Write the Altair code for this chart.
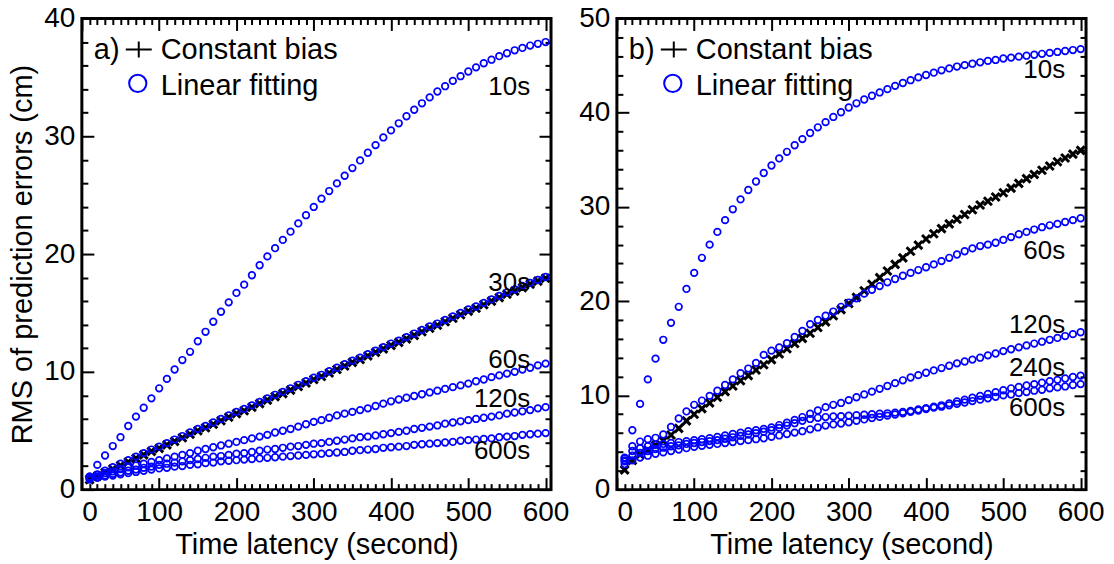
import altair as alt
import pandas as pd

FONT = "Liberation Sans"
W, H = 470, 472
XMAX = 607

# time latency (s) of every sample
latency = list(range(10, 601, 10))

# ---------------- panel a ----------------
a_bias = [0.85, 1.15, 1.45, 1.75, 2.05, 2.35, 2.65, 2.95, 3.25, 3.5,
          3.8, 4.1, 4.4, 4.7, 5.0, 5.25, 5.55, 5.85, 6.15, 6.45,
          6.7, 7.0, 7.3, 7.6, 7.9, 8.15, 8.45, 8.75, 9.05, 9.35,
          9.6, 9.9, 10.2, 10.5, 10.8, 11.05, 11.35, 11.65, 11.95, 12.25,
          12.5, 12.8, 13.1, 13.4, 13.7, 13.95, 14.25, 14.55, 14.85, 15.15,
          15.4, 15.7, 16.0, 16.3, 16.6, 16.85, 17.15, 17.45, 17.7, 17.95]
a_10 = [1.1, 2.1, 2.9, 3.7, 4.45, 5.4, 6.2, 6.95, 7.75, 8.6,
        9.4, 10.2, 11.0, 11.7, 12.6, 13.4, 14.25, 15.1, 15.9, 16.7,
        17.4, 18.2, 19.05, 19.8, 20.5, 21.2, 21.9, 22.6, 23.3, 24.0,
        24.7, 25.35, 26.0, 26.65, 27.3, 27.95, 28.6, 29.25, 29.9, 30.5,
        31.1, 31.7, 32.25, 32.8, 33.3, 33.8, 34.25, 34.7, 35.1, 35.5,
        35.85, 36.2, 36.5, 36.8, 37.05, 37.3, 37.5, 37.7, 37.85, 38.0]
a_30 = [1.05, 1.3, 1.6, 1.9, 2.2, 2.5, 2.8, 3.1, 3.4, 3.65,
        3.95, 4.25, 4.55, 4.85, 5.15, 5.4, 5.7, 6.0, 6.3, 6.6,
        6.85, 7.15, 7.45, 7.75, 8.05, 8.3, 8.6, 8.9, 9.2, 9.5,
        9.75, 10.05, 10.35, 10.65, 10.95, 11.2, 11.5, 11.8, 12.1, 12.4,
        12.65, 12.95, 13.25, 13.55, 13.85, 14.1, 14.4, 14.7, 15.0, 15.3,
        15.55, 15.85, 16.15, 16.45, 16.75, 17.0, 17.3, 17.55, 17.8, 18.05]
a_60 = [1.1, 1.25, 1.4, 1.55, 1.75, 1.9, 2.05, 2.2, 2.35, 2.5,
        2.65, 2.8, 2.95, 3.1, 3.3, 3.45, 3.6, 3.75, 3.9, 4.05,
        4.2, 4.35, 4.5, 4.65, 4.85, 5.0, 5.15, 5.35, 5.55, 5.75,
        5.9, 6.1, 6.3, 6.45, 6.6, 6.75, 6.9, 7.1, 7.3, 7.5,
        7.65, 7.8, 7.95, 8.1, 8.25, 8.4, 8.55, 8.7, 8.85, 9.0,
        9.2, 9.35, 9.55, 9.7, 9.85, 10.0, 10.2, 10.35, 10.55, 10.7]
a_120 = [0.95, 1.1, 1.2, 1.35, 1.45, 1.6, 1.7, 1.85, 1.95, 2.1,
         2.2, 2.3, 2.4, 2.5, 2.6, 2.7, 2.8, 2.85, 2.95, 3.05,
         3.1, 3.2, 3.3, 3.4, 3.45, 3.55, 3.65, 3.7, 3.8, 3.9,
         3.95, 4.05, 4.15, 4.25, 4.35, 4.45, 4.5, 4.6, 4.7, 4.8,
         4.9, 5.0, 5.15, 5.25, 5.35, 5.45, 5.6, 5.7, 5.8, 5.9,
         6.0, 6.1, 6.2, 6.3, 6.45, 6.55, 6.65, 6.75, 6.9, 7.0]
a_600 = [0.85, 1.0, 1.1, 1.2, 1.3, 1.4, 1.5, 1.6, 1.7, 1.8,
         1.85, 1.95, 2.0, 2.1, 2.15, 2.25, 2.3, 2.4, 2.45, 2.5,
         2.55, 2.6, 2.65, 2.7, 2.75, 2.8, 2.85, 2.9, 2.95, 3.0,
         3.05, 3.1, 3.15, 3.2, 3.3, 3.35, 3.4, 3.45, 3.55, 3.6,
         3.65, 3.7, 3.8, 3.85, 3.9, 3.95, 4.0, 4.05, 4.15, 4.2,
         4.25, 4.3, 4.35, 4.45, 4.5, 4.55, 4.65, 4.7, 4.75, 4.8]
a_names = ["10s", "30s", "60s", "120s", "600s"]
a_label_y = [34.2, 17.5, 11.0, 7.7, 3.3]

# ---------------- panel b ----------------
b_bias = [2.1, 3.1, 3.7, 4.2, 4.7, 5.2, 5.8, 6.5, 7.3, 8.0,
          8.6, 9.2, 9.8, 10.4, 11.0, 11.55, 12.1, 12.7, 13.25, 13.8,
          14.4, 14.95, 15.5, 16.05, 16.6, 17.2, 17.8, 18.45, 19.1, 19.75,
          20.4, 21.1, 21.8, 22.5, 23.2, 23.9, 24.6, 25.3, 25.95, 26.6,
          27.15, 27.7, 28.2, 28.7, 29.2, 29.7, 30.2, 30.6, 31.05, 31.5,
          32.0, 32.5, 33.0, 33.45, 33.9, 34.35, 34.8, 35.2, 35.6, 36.0]
b_10 = [3.0, 6.3, 9.1, 11.7, 13.9, 15.9, 17.7, 19.4, 21.3, 23.0,
        24.6, 26.0, 27.35, 28.6, 29.75, 30.8, 31.8, 32.7, 33.6, 34.4,
        35.15, 35.85, 36.55, 37.2, 37.85, 38.45, 39.0, 39.55, 40.05, 40.55,
        41.0, 41.4, 41.8, 42.15, 42.5, 42.85, 43.15, 43.45, 43.75, 44.0,
        44.25, 44.5, 44.7, 44.9, 45.05, 45.2, 45.35, 45.5, 45.6, 45.75,
        45.85, 45.95, 46.05, 46.15, 46.25, 46.35, 46.45, 46.55, 46.65, 46.75]
b_60 = [3.3, 4.6, 5.1, 5.35, 5.5, 5.85, 6.65, 7.55, 8.3, 9.0,
        9.45, 9.95, 10.5, 11.1, 11.7, 12.35, 12.85, 13.45, 14.3, 14.75,
        15.1, 15.55, 16.2, 16.85, 17.55, 18.0, 18.45, 18.9, 19.4, 19.85,
        20.3, 20.8, 21.2, 21.6, 22.0, 22.35, 22.7, 23.0, 23.3, 23.6,
        23.9, 24.25, 24.6, 24.95, 25.3, 25.6, 25.85, 26.0, 26.2, 26.5,
        26.8, 27.1, 27.35, 27.6, 27.85, 28.05, 28.2, 28.4, 28.6, 28.8]
b_120 = [3.4, 4.1, 4.4, 4.6, 4.75, 4.85, 4.95, 5.05, 5.15, 5.25,
         5.35, 5.45, 5.6, 5.75, 5.9, 6.05, 6.2, 6.3, 6.45, 6.6,
         6.85, 7.1, 7.4, 7.7, 8.05, 8.4, 8.75, 9.0, 9.2, 9.5,
         9.8, 10.1, 10.4, 10.7, 11.0, 11.3, 11.6, 11.9, 12.15, 12.4,
         12.65, 12.9, 13.15, 13.4, 13.6, 13.8, 14.0, 14.25, 14.45, 14.7,
         14.9, 15.1, 15.3, 15.5, 15.7, 15.9, 16.1, 16.3, 16.5, 16.7]
b_240 = [3.1, 3.6, 3.9, 4.1, 4.3, 4.45, 4.6, 4.7, 4.85, 4.95,
         5.05, 5.15, 5.25, 5.4, 5.55, 5.7, 5.85, 6.0, 6.15, 6.3,
         6.55, 6.8, 7.05, 7.3, 7.5, 7.62, 7.7, 7.76, 7.8, 7.85,
         7.9, 7.95, 8.0, 8.05, 8.1, 8.17, 8.25, 8.35, 8.5, 8.65,
         8.8, 8.95, 9.15, 9.35, 9.55, 9.75, 9.95, 10.15, 10.35, 10.55,
         10.75, 10.9, 11.05, 11.2, 11.35, 11.5, 11.65, 11.8, 11.95, 12.1]
b_600 = [2.7, 3.1, 3.4, 3.6, 3.8, 3.95, 4.1, 4.25, 4.4, 4.55,
         4.65, 4.75, 4.85, 4.95, 5.05, 5.15, 5.25, 5.35, 5.45, 5.6,
         5.75, 5.9, 6.05, 6.2, 6.4, 6.6, 6.8, 6.92, 7.02, 7.15,
         7.3, 7.45, 7.6, 7.72, 7.85, 7.97, 8.1, 8.25, 8.4, 8.55,
         8.7, 8.8, 8.95, 9.1, 9.25, 9.4, 9.55, 9.7, 9.85, 10.0,
         10.1, 10.25, 10.35, 10.5, 10.6, 10.75, 10.85, 10.95, 11.1, 11.2]
b_names = ["10s", "60s", "120s", "240s", "600s"]
b_label_y = [44.5, 25.3, 17.5, 12.9, 8.7]

label_x = 580  # right edge of the series labels (data units)

for s in [a_bias, a_10, a_30, a_60, a_120, a_600,
          b_bias, b_10, b_60, b_120, b_240, b_600]:
    assert len(s) == len(latency), len(s)

X_MAJOR = list(range(0, 601, 100))
X_ALL = list(range(0, 601, 10))

BLUE = "#0000ff"
X_SHAPE = "M-1,-1L1,1M-1,1L1,-1"
PLUS_SHAPE = "M-1,0L1,0M0,-0.62L0,0.62"


def tick_size(step):
    return {"condition": {"test": f"datum.value % {step} === 0", "value": 12}, "value": 6}


def tick_axis(orient, offset, values, step):
    return alt.Axis(orient=orient, offset=offset, values=values, labels=False,
                    domain=False, grid=False, ticks=True, tickWidth=2,
                    tickColor="black", tickSize=tick_size(step), title=None)


def panel(tag, ymax, series, names, bias, label_y, y_title):
    xs = alt.Scale(domain=[0, XMAX], nice=False, zero=False)
    ys = alt.Scale(domain=[0, ymax], nice=False, zero=False)
    y_all = list(range(0, ymax + 1, 2))
    y_major = list(range(0, ymax + 1, 10))

    rows = []
    for name, vals in zip(names, series):
        for t, v in zip(latency, vals):
            rows.append({"x": t, "y": v, "s": name})
    circ_df = pd.DataFrame(rows)
    bias_df = pd.DataFrame({"x": latency, "y": bias})
    lab_df = pd.DataFrame({"x": [label_x] * len(names), "y": label_y, "t": names})

    # crosses: carry the inward ticks on the bottom and left frame
    crosses = alt.Chart(bias_df).mark_point(
        shape=X_SHAPE, filled=False, color="black", size=64, strokeWidth=3, opacity=1
    ).encode(
        x=alt.X("x:Q", scale=xs, axis=tick_axis("top", -H, X_ALL, 100)),
        y=alt.Y("y:Q", scale=ys, axis=tick_axis("right", -W, y_all, 10)),
    )

    y_axis_kw = dict(values=y_major, ticks=False, domain=False, grid=False,
                     labelFontSize=28, labelPadding=7)
    if y_title:
        y_axis_kw.update(title=y_title, titleFontSize=29, titleFontWeight="normal",
                         titlePadding=6)
    else:
        y_axis_kw.update(title=None)

    circles = alt.Chart(circ_df).mark_point(
        shape="circle", filled=False, color=BLUE, size=44, strokeWidth=1.7, opacity=1
    ).encode(
        x=alt.X("x:Q", scale=xs,
                axis=alt.Axis(values=X_MAJOR, ticks=False, domain=False, grid=False,
                              labelFontSize=28, labelPadding=9,
                              title="Time latency (second)", titleFontSize=29,
                              titleFontWeight="normal", titlePadding=4)),
        y=alt.Y("y:Q", scale=ys, axis=alt.Axis(**y_axis_kw)),
        detail="s:N",
    )

    # series labels: carry the inward ticks on the top and right frame
    labels = alt.Chart(lab_df).mark_text(
        align="right", baseline="middle", fontSize=26, font=FONT, color="black"
    ).encode(
        x=alt.X("x:Q", scale=xs, axis=tick_axis("bottom", -H, X_ALL, 100)),
        y=alt.Y("y:Q", scale=ys, axis=tick_axis("left", -W, y_all, 10)),
        text="t:N",
    )

    def txt(s, px, py):
        return alt.Chart(alt.Data(values=[{"t": s}])).mark_text(
            align="left", baseline="alphabetic", fontSize=29, font=FONT, color="black"
        ).encode(x=alt.value(px), y=alt.value(py), text="t:N")

    leg_tag = txt(tag, 12, 41)
    leg_bias = txt("Constant bias", 79, 41)
    leg_fit = txt("Linear fitting", 79, 77)
    leg_plus = alt.Chart(alt.Data(values=[{"t": "+"}])).mark_point(
        shape=PLUS_SHAPE, filled=False, color="black", size=676, strokeWidth=2, opacity=1
    ).encode(x=alt.value(57), y=alt.value(31))
    leg_circ = alt.Chart(alt.Data(values=[{"t": "o"}])).mark_point(
        shape="circle", filled=False, color=BLUE, size=300, strokeWidth=2, opacity=1
    ).encode(x=alt.value(56), y=alt.value(65))

    return alt.layer(
        crosses, circles, labels, leg_tag, leg_bias, leg_fit, leg_plus, leg_circ
    ).resolve_axis(x="independent", y="independent").properties(width=W, height=H)


left = panel("a)", 40, [a_10, a_30, a_60, a_120, a_600], a_names, a_bias, a_label_y,
             "RMS of prediction errors (cm)")
right = panel("b)", 50, [b_10, b_60, b_120, b_240, b_600], b_names, b_bias, b_label_y, None)

chart = alt.hconcat(left, right, spacing=66, bounds="flush").properties(
    padding={"left": -1, "top": -6, "right": 0, "bottom": 0}
).configure_view(
    stroke="black", strokeWidth=3
).configure_axis(
    labelFont=FONT, titleFont=FONT, labelColor="black", titleColor="black"
)

chart.save("out.html", embed_options={"renderer": "svg", "actions": False})
